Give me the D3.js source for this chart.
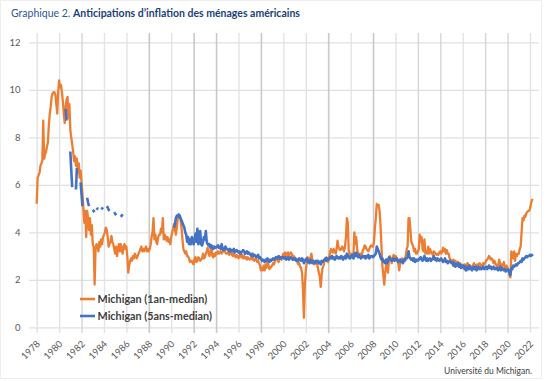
<!DOCTYPE html>
<html><head><meta charset="utf-8">
<script src="https://cdn.jsdelivr.net/npm/d3@7"></script>
<style>body{margin:0;background:#fff}svg{display:block}</style>
</head><body><svg id="c" width="550" height="381"></svg>
<script>
// ---------- DATA ----------
const startYear = 1978; // monthly data, first value = January 1978
const oneYear = [
  5.2,6.3,6.4,6.5,6.8,6.9,7.0,8.7,7.1,7.3,7.4,7.6,            // 1978
  7.8,8.5,9.0,9.3,9.7,9.85,9.9,9.9,9.8,9.4,9.0,9.9,           // 1979
  10.4,10.1,10.2,9.9,9.5,9.0,8.6,9.3,9.6,9.7,8.8,9.4,         // 1980
  8.3,8.0,7.7,7.4,7.0,7.2,6.8,7.1,6.5,6.9,6.3,6.6,            // 1981
  6.1,5.6,5.0,4.4,4.9,3.8,4.9,4.6,4.1,4.6,3.9,4.3,            // 1982
  3.5,3.4,1.8,3.3,3.5,3.4,3.2,3.6,3.4,3.7,3.5,3.8,            // 1983
  3.9,4.0,4.2,4.1,3.8,3.4,3.5,3.6,3.85,3.6,3.5,3.3,           // 1984
  3.1,3.4,3.0,3.3,3.5,3.2,3.5,3.3,3.1,3.4,3.5,3.3,            // 1985
  3.4,3.0,2.3,2.6,2.8,2.9,2.8,3.0,2.9,3.1,3.0,2.9,            // 1986
  3.0,3.1,3.2,3.3,3.4,3.2,3.3,3.2,3.3,3.4,3.2,3.3,            // 1987
  3.2,3.3,3.5,3.8,4.0,4.6,3.7,3.9,3.6,3.5,3.8,3.9,            // 1988
  3.9,4.15,4.0,4.6,3.7,3.9,3.8,3.65,3.8,3.6,3.7,3.5,          // 1989
  3.8,4.0,4.15,4.35,4.1,3.9,4.2,4.6,4.75,4.7,4.5,4.2,         // 1990
  3.7,3.3,3.2,3.1,3.2,3.0,3.0,2.9,2.75,2.8,2.8,2.7,           // 1991
  2.65,2.9,2.95,2.75,2.8,2.95,2.9,2.8,2.85,2.9,3.1,2.9,       // 1992
  2.95,3.1,3.2,3.35,3.1,3.0,3.2,3.35,3.0,2.95,3.1,3.0,        // 1993
  3.15,3.1,3.2,3.1,3.15,3.2,3.1,3.2,3.2,3.3,3.15,3.1,         // 1994
  3.1,3.15,3.05,3.1,3.2,3.05,3.0,3.1,3.0,2.95,3.05,3.0,       // 1995
  2.9,3.0,3.1,2.95,3.05,2.9,3.0,2.9,2.95,2.85,2.95,2.9,       // 1996
  2.85,2.9,2.95,2.85,2.9,2.8,2.85,2.9,2.75,2.8,2.7,2.6,       // 1997
  2.4,2.5,2.4,2.6,2.4,2.65,2.5,2.75,2.65,2.45,2.5,2.55,       // 1998
  2.6,2.7,2.65,2.8,2.9,2.95,2.8,2.75,2.9,2.95,2.85,3.0,       // 1999
  3.1,2.95,3.15,3.0,3.1,3.15,3.0,3.1,3.15,3.1,2.95,3.0,       // 2000
  2.95,2.9,2.8,2.75,2.65,2.7,2.55,2.5,2.3,1.6,0.4,1.8,        // 2001
  2.4,2.7,2.95,2.9,2.8,2.9,3.1,2.85,2.8,2.65,2.7,2.75,        // 2002
  2.7,2.5,2.3,2.15,1.7,2.2,2.5,2.6,2.8,2.85,2.95,2.8,         // 2003
  2.75,2.9,3.15,3.3,3.2,3.15,3.3,3.2,3.1,3.3,3.65,3.4,        // 2004
  3.3,3.25,3.3,3.4,3.3,3.2,3.4,3.8,4.6,4.4,3.2,3.1,           // 2005
  3.1,3.0,3.1,3.0,4.0,3.5,3.8,3.3,3.1,3.0,3.1,3.1,            // 2006
  3.0,3.25,3.3,3.45,3.4,3.3,3.25,3.2,3.3,3.4,3.45,3.4,        // 2007
  3.4,3.6,4.2,4.6,5.2,5.1,5.15,4.9,4.3,3.4,2.6,2.2,           // 2008
  1.8,2.3,2.6,2.7,2.3,2.85,3.0,2.9,2.7,2.9,3.05,2.95,         // 2009
  3.0,2.95,2.9,2.7,2.4,2.7,2.85,2.9,2.85,2.85,2.9,3.0,        // 2010
  3.3,3.4,4.6,4.6,4.1,3.6,3.5,3.4,3.2,3.3,3.1,3.1,            // 2011
  3.2,3.3,3.9,3.6,3.8,3.3,3.2,3.7,3.1,3.2,3.1,3.4,            // 2012
  3.1,3.3,3.2,3.1,3.05,3.2,3.15,3.1,3.05,3.1,3.05,3.15,       // 2013
  3.2,3.1,3.2,3.35,3.2,3.3,3.1,3.25,3.1,3.1,2.9,2.85,         // 2014
  2.75,2.8,2.85,2.7,2.8,2.75,2.65,2.75,2.55,2.7,2.6,2.65,     // 2015
  2.5,2.55,2.65,2.4,2.6,2.7,2.65,2.55,2.6,2.5,2.55,2.6,       // 2016
  2.7,2.55,2.6,2.65,2.55,2.65,2.7,2.65,2.55,2.6,2.7,2.65,     // 2017
  2.7,2.8,2.85,2.9,3.0,2.95,2.85,2.9,2.85,2.7,2.8,2.65,       // 2018
  2.65,2.55,2.6,2.85,2.7,2.55,2.65,2.6,2.75,2.5,2.55,2.6,     // 2019
  2.5,2.4,2.2,2.1,3.2,3.0,2.9,3.2,2.8,3.1,3.0,3.1,            // 2020
  3.1,3.3,3.4,4.0,4.6,4.5,4.7,4.65,4.8,4.85,4.9,4.9,          // 2021
  5.0,5.2,5.35,5.4                                            // 2022
];
// 5-year series: continuous from April 1990
const fiveYearStart = [1990, 4];
const fiveYear = [
  4.2,4.35,4.6,4.7,4.65,4.75,4.7,4.6,4.5,                     // 1990 (Apr-Dec)
  4.4,4.3,4.2,4.0,3.9,3.6,3.8,3.5,3.7,3.5,3.8,3.6,            // 1991
  3.5,3.7,3.95,3.6,4.15,3.5,3.7,4.05,3.5,3.45,3.6,3.8,        // 1992
  3.7,4.05,3.6,3.5,3.45,3.5,3.35,3.45,3.4,3.3,3.4,3.35,       // 1993
  3.35,3.4,3.45,3.35,3.4,3.3,3.5,3.3,3.25,3.3,3.4,3.3,        // 1994
  3.3,3.25,3.2,3.3,3.2,3.25,3.2,3.3,3.15,3.2,3.25,3.2,        // 1995
  3.15,3.2,3.1,3.15,3.2,3.25,3.2,3.1,3.15,3.2,3.1,3.15,       // 1996
  3.1,3.05,3.0,3.1,3.0,3.05,3.0,2.95,3.0,3.05,2.9,2.95,       // 1997
  2.9,2.8,2.85,2.8,2.75,2.85,2.8,2.9,2.8,2.75,2.85,2.8,       // 1998
  2.85,2.9,2.85,2.9,2.95,2.9,2.95,3.0,2.9,2.95,2.9,2.95,      // 1999
  2.95,2.9,2.95,2.85,2.9,2.95,2.85,2.9,2.95,2.9,2.85,2.9,     // 2000
  2.85,2.9,2.8,2.85,2.8,2.9,2.85,2.8,2.9,2.85,2.7,2.8,        // 2001
  2.85,2.9,2.75,2.8,2.7,2.85,2.75,2.7,2.8,2.75,2.7,2.8,       // 2002
  2.75,2.8,2.7,2.75,2.65,2.8,2.75,2.8,2.85,2.9,2.8,2.9,       // 2003
  2.85,2.9,2.95,2.9,3.0,2.9,2.95,2.85,2.9,3.0,2.95,2.9,       // 2004
  2.95,2.9,3.0,2.95,2.85,2.95,3.0,2.9,3.1,3.05,2.95,2.9,      // 2005
  3.0,2.95,3.05,2.9,3.1,3.0,3.15,3.0,2.95,3.05,2.95,2.9,      // 2006
  2.95,3.0,2.95,3.0,2.9,3.0,2.95,3.05,2.9,2.95,3.0,3.0,       // 2007
  2.95,3.0,3.05,3.1,3.4,3.3,3.2,3.1,2.95,2.85,2.9,2.75,       // 2008
  2.8,2.7,2.85,2.7,2.8,2.95,2.9,2.85,2.8,2.85,2.9,2.8,        // 2009
  2.85,2.9,2.8,2.75,2.8,2.85,2.75,2.8,2.7,2.85,2.8,2.9,       // 2010
  2.9,2.95,3.2,2.95,2.9,2.85,2.9,2.8,2.9,2.75,2.8,2.85,       // 2011
  2.8,2.85,2.9,2.95,2.85,2.8,2.9,3.0,2.85,2.8,2.9,2.8,        // 2012
  2.85,2.9,2.8,2.85,2.9,3.0,2.85,2.9,2.8,2.9,2.85,2.8,        // 2013
  2.85,2.9,2.8,2.75,2.8,2.9,2.75,2.8,2.7,2.75,2.8,2.75,       // 2014
  2.7,2.75,2.6,2.7,2.55,2.65,2.6,2.7,2.55,2.65,2.5,2.6,       // 2015
  2.55,2.6,2.45,2.55,2.4,2.55,2.45,2.6,2.45,2.5,2.4,2.55,     // 2016
  2.5,2.45,2.55,2.4,2.5,2.55,2.45,2.5,2.45,2.5,2.55,2.45,     // 2017
  2.5,2.55,2.45,2.5,2.6,2.5,2.55,2.45,2.5,2.55,2.45,2.5,      // 2018
  2.45,2.5,2.4,2.45,2.55,2.4,2.5,2.45,2.4,2.45,2.35,2.4,      // 2019
  2.45,2.4,2.3,2.2,2.5,2.45,2.6,2.55,2.6,2.65,2.6,2.7,        // 2020
  2.7,2.75,2.8,2.75,2.9,2.85,2.9,2.95,3.0,2.95,3.0,3.0,       // 2021
  3.05,3.0,3.05,3.0                                           // 2022
];
// sparse early 5-year observations: [year, first month, consecutive monthly values]
const fiveYearEarly = [
  [1980, 8, [9.2, 8.7]],
  [1981, 1, [7.4, 6.6, 5.9]],
  [1981, 7, [5.8, 6.7]],
  [1981, 12, [6.1, 5.6, 5.1]],
  [1982, 7, [5.45, 5.25, 5.1]],
  [1983, 1, [4.95, 4.9, 4.85]],
  [1983, 5, [4.95, 5.0, 4.98]],
  [1983, 10, [4.97, 5.0, 5.05]],
  [1984, 4, [5.1, 5.05, 4.95, 4.9]],
  [1984, 12, [4.85, 4.78, 4.72]],
  [1985, 7, [4.65, 4.7, 4.76]]
];
const yTicks = [0, 2, 4, 6, 8, 10, 12];
const xTicks = d3.range(1978, 2023, 2);
const seriesNames = ["Michigan (1an-median)", "Michigan (5ans-median)"];
const titleLead = "Graphique 2. ";
const titleMain = "Anticipations d\u2019inflation des ménages américains";
const sourceText = "Université du Michigan.";

// ---------- STYLE ----------
const colors = ["#ED7D31", "#4472C4"];
const darkGridYears = [1988, 1992, 1994, 1998, 2004, 2008];
const midGridYears = [1982, 2012, 2014, 2018, 2020];
const FONT = "Lato, 'Open Sans', sans-serif";

const svg = d3.select("#c");
svg.append("rect").attr("x", 0.5).attr("y", 0.5).attr("width", 541).attr("height", 378)
  .attr("fill", "#fff").attr("stroke", "#eeeeee");

const x = d3.scaleLinear().domain([1978, 2022]).range([36.7, 530]);
const y = d3.scaleLinear().domain([0, 12]).range([327.3, 42.3]);

// title
const title = svg.append("text").attr("x", 11).attr("y", 16.5)
  .attr("font-family", FONT).attr("font-size", 10.5).attr("fill", "#2F5597");
title.append("tspan").text(titleLead);
title.append("tspan").attr("font-weight", "bold").attr("fill", "#203F7A").text(titleMain);

// horizontal grid + y labels
const gy = svg.append("g").attr("transform", "translate(29,0)")
  .call(d3.axisLeft(y).tickValues(yTicks).tickSize(-510).tickPadding(8.5).tickFormat(d3.format("d")));
gy.select(".domain").remove();
gy.selectAll("line").attr("stroke", "#e0e0e0").attr("stroke-width", 1.3);
gy.selectAll("text").attr("font-family", FONT).attr("font-size", 9.5).attr("fill", "#595959");

// vertical grid + x labels
const gx = svg.append("g").attr("transform", "translate(0,333)")
  .call(d3.axisBottom(x).tickValues(xTicks).tickSize(-300).tickFormat(d3.format("d")));
gx.select(".domain").remove();
gx.selectAll("line")
  .attr("stroke", d => darkGridYears.includes(d) ? "#c9c9c9" : midGridYears.includes(d) ? "#d6d6d6" : "#e3e3e3")
  .attr("stroke-width", d => darkGridYears.includes(d) ? 1.6 : 1.4);
gx.selectAll("text")
  .attr("font-family", FONT).attr("font-size", 9.5).attr("fill", "#595959")
  .attr("text-anchor", "end").attr("y", 0).attr("dy", null)
  .attr("transform", "translate(3.5,11.5) rotate(-45)");

// series
const tOf = (yr, m) => yr + (m - 1) / 12;
const oneData = oneYear.map((v, i) => ({t: startYear + i / 12, v}));
const fiveData = fiveYear.map((v, i) => ({t: tOf(fiveYearStart[0], fiveYearStart[1]) + i / 12, v}));
const line = d3.line().x(d => x(d.t)).y(d => y(d.v)).curve(d3.curveLinear);

svg.append("path").datum(oneData).attr("d", line)
  .attr("fill", "none").attr("stroke", colors[0]).attr("stroke-width", 2.3)
  .attr("stroke-linejoin", "round");

fiveYearEarly.forEach(([yr, m, vals]) => {
  const seg = vals.map((v, i) => ({t: tOf(yr, m) + i / 12, v}));
  svg.append("path").datum(seg).attr("d", line)
    .attr("fill", "none").attr("stroke", colors[1]).attr("stroke-width", 2.6)
    .attr("stroke-linejoin", "round");
});
svg.append("path").datum(fiveData).attr("d", line)
  .attr("fill", "none").attr("stroke", colors[1]).attr("stroke-width", 2.6)
  .attr("stroke-linejoin", "round");

// legend
const lg = svg.append("g");
seriesNames.forEach((name, i) => {
  const ly = 299 + i * 17;
  lg.append("line").attr("x1", 80).attr("x2", 95).attr("y1", ly).attr("y2", ly)
    .attr("stroke", colors[i]).attr("stroke-width", 2.6);
  lg.append("text").attr("x", 97.5).attr("y", ly + 3.8)
    .attr("font-family", FONT).attr("font-size", 10.8).attr("font-weight", "bold")
    .attr("fill", "#404040").text(name);
});

// source
svg.append("text").attr("x", 532).attr("y", 373.5).attr("text-anchor", "end")
  .attr("font-family", FONT).attr("font-size", 8.5).attr("fill", "#404040").text(sourceText);
</script></body></html>
